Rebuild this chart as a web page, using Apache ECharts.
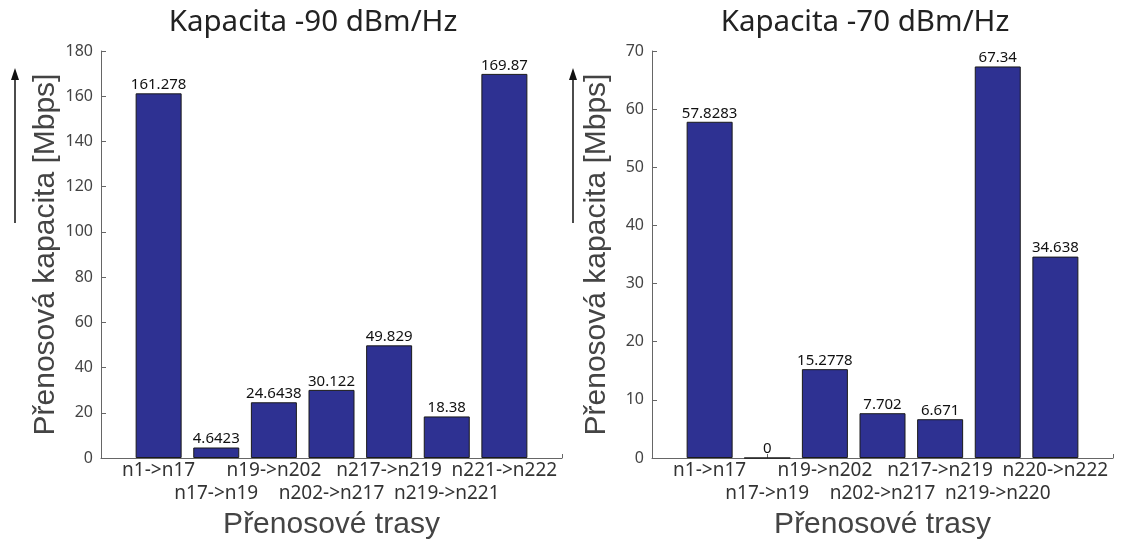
<!DOCTYPE html>
<html style="height: 100%">
    <head>
        <title>Kapacita</title>
        <meta charset="utf-8">
    </head>
    <body style="height: 100%; margin: 0; background: #fff">
        <div id="container" style="width: 1122px; height: 539px"></div>

        <script type="text/javascript" src="https://cdn.jsdelivr.net/npm/echarts@6.0.0/dist/echarts.min.js"></script>
        <script type="text/javascript">
            var dom = document.getElementById("container");
            var myChart = echarts.init(dom);

            // data
            var routesA = ['n1->n17', 'n17->n19', 'n19->n202', 'n202->n217', 'n217->n219', 'n219->n221', 'n221->n222'];
            var valuesA = [161.278, 4.6423, 24.6438, 30.122, 49.829, 18.38, 169.87];
            var labelsA = ['161.278', '4.6423', '24.6438', '30.122', '49.829', '18.38', '169.87'];

            var routesB = ['n1->n17', 'n17->n19', 'n19->n202', 'n202->n217', 'n217->n219', 'n219->n220', 'n220->n222'];
            var valuesB = [57.8283, 0, 15.2778, 7.702, 6.671, 67.34, 34.638];
            var labelsB = ['57.8283', '0', '15.2778', '7.702', '6.671', '67.34', '34.638'];

            var titles = ['Kapacita -90 dBm/Hz', 'Kapacita -70 dBm/Hz'];
            var yMax = [180, 70];
            var yStep = [20, 10];

            var uiFont = 'Noto Sans';
            var nameFont = 'Liberation Sans';
            var barColor = '#2e3192';

            function toPoints(values) {
                return values.map(function (v, i) { return [i + 1, v]; });
            }

            function xAxisFor(idx, routes) {
                return {
                    type: 'value',
                    gridIndex: idx,
                    min: 0,
                    max: 8,
                    interval: 1,
                    name: 'Přenosové trasy',
                    nameLocation: 'middle',
                    nameGap: 49,
                    nameTextStyle: { fontFamily: nameFont, fontSize: 30, color: '#444' },
                    axisLine: { lineStyle: { color: '#666', width: 1 } },
                    axisTick: { inside: true, length: 4, lineStyle: { color: '#666' } },
                    splitLine: { show: false },
                    axisLabel: {
                        fontFamily: uiFont,
                        fontSize: 19,
                        color: '#333',
                        margin: 1,
                        lineHeight: 23,
                        showMinLabel: true,
                        showMaxLabel: true,
                        formatter: function (v) {
                            var r = routes[v - 1];
                            if (!r) return '';
                            return (v % 2 === 0) ? '\n' + r : r;
                        }
                    }
                };
            }

            function yAxisFor(idx) {
                return {
                    type: 'value',
                    gridIndex: idx,
                    min: 0,
                    max: yMax[idx],
                    interval: yStep[idx],
                    name: 'Přenosová kapacita [Mbps]',
                    nameLocation: 'middle',
                    nameGap: 40,
                    nameTextStyle: { fontFamily: nameFont, fontSize: 30, color: '#444' },
                    axisLine: { show: true, lineStyle: { color: '#666', width: 1 } },
                    axisTick: { show: true, inside: true, length: 5, lineStyle: { color: '#666' } },
                    splitLine: { show: false },
                    axisLabel: { fontFamily: uiFont, fontSize: 16, color: '#444', margin: 8 }
                };
            }

            function barSeries(idx, values, labels) {
                return {
                    type: 'bar',
                    xAxisIndex: idx,
                    yAxisIndex: idx,
                    data: toPoints(values),
                    barWidth: 46,
                    itemStyle: { color: barColor, borderColor: '#1a1a1a', borderWidth: 1 },
                    label: {
                        show: true,
                        position: 'top',
                        distance: 1,
                        fontFamily: uiFont,
                        fontSize: 15,
                        color: '#111',
                        formatter: function (p) { return labels[p.dataIndex]; }
                    }
                };
            }

            function arrow(x) {
                return [
                    { type: 'line', shape: { x1: x, y1: 223, x2: x, y2: 78 }, style: { stroke: '#111', lineWidth: 1.5 } },
                    { type: 'polygon', shape: { points: [[x, 68], [x - 4, 80], [x + 4, 80]] }, style: { fill: '#111' } }
                ];
            }

            var option = {
                backgroundColor: '#fff',
                animation: false,
                title: [
                    { text: titles[0], left: 308, top: 3, textAlign: 'center', textStyle: { fontFamily: uiFont, fontSize: 29.5, fontWeight: 'normal', color: '#222' } },
                    { text: titles[1], left: 860, top: 3, textAlign: 'center', textStyle: { fontFamily: uiFont, fontSize: 29.5, fontWeight: 'normal', color: '#222' } }
                ],
                grid: [
                    { left: 101, right: 1122 - 562, top: 51, bottom: 539 - 458, containLabel: false, outerBoundsMode: 'none' },
                    { left: 652, right: 1122 - 1113, top: 51, bottom: 539 - 458, containLabel: false, outerBoundsMode: 'none' }
                ],
                xAxis: [xAxisFor(0, routesA), xAxisFor(1, routesB)],
                yAxis: [yAxisFor(0), yAxisFor(1)],
                series: [barSeries(0, valuesA, labelsA), barSeries(1, valuesB, labelsB)],
                graphic: arrow(15).concat(arrow(573))
            };

            myChart.setOption(option);
            window.onresize = function () {
                myChart.resize();
            }
        </script>
    </body>
</html>
